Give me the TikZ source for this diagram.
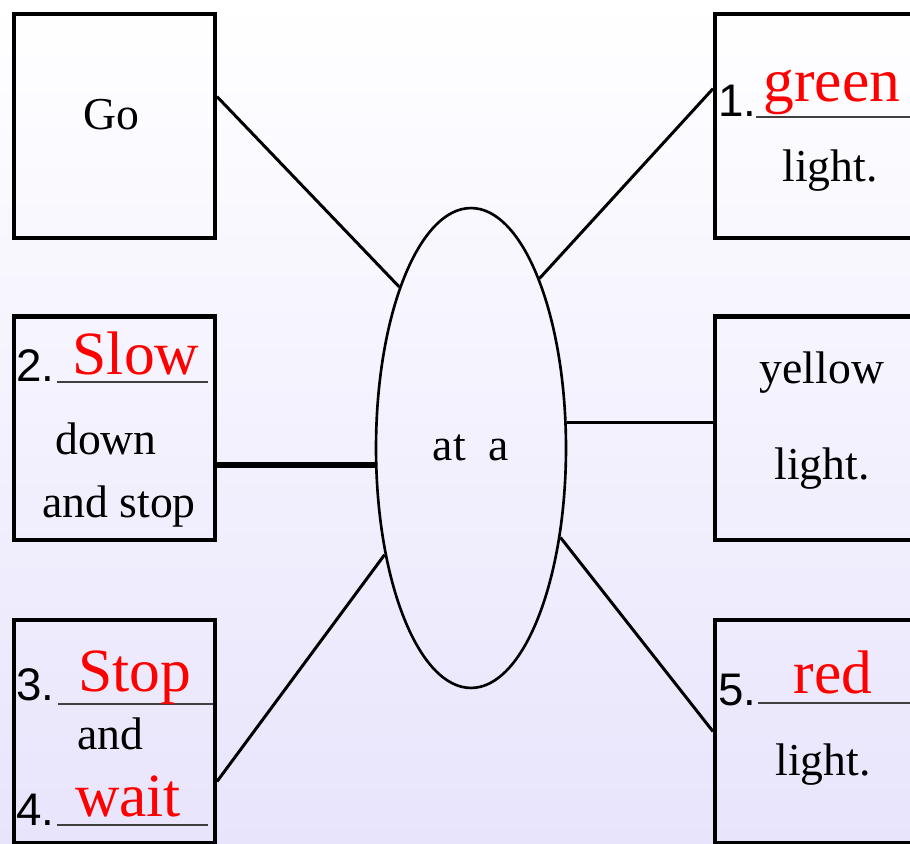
\documentclass[tikz,border=0pt]{standalone}
\usepackage{fontspec}
\setmainfont{Liberation Serif}
\newfontfamily\numfont{Liberation Sans}
\usetikzlibrary{shapes.geometric}
\definecolor{lav}{RGB}{232,228,252}

\begin{document}
\begin{tikzpicture}[x=0.02cm,y=-0.02cm,
    box/.style={draw,line width=2.3pt,minimum width=4.02cm,minimum height=4.48cm,inner sep=0pt},
    link/.style={line width=1.7pt},
    word/.style={font=\fontsize{26}{30}\selectfont,anchor=base,inner sep=0pt},
    ans/.style={text=red,font=\fontsize{35}{40}\selectfont,anchor=base,inner sep=0pt},
    num/.style={font=\numfont\fontsize{26}{30}\selectfont,anchor=base west,inner sep=0pt},
    blank/.style={line width=0.8pt,black!75}]
      \useasboundingbox (0,0) rectangle (910,844) ;
      \clip (0,0) rectangle (910,844) ;
      \shade[top color=white,middle color=lav!40!white,bottom color=lav] (0,0) rectangle (910,844) ;
      % left column
      \node[box] (go) at (114.5,126) {} ;
      \node[box] (slow) at (114.5,428.5) {} ;
      \node[box] (stop) at (114.5,731.5) {} ;
      % right column
      \node[box] (green) at (815.5,126) {} ;
      \node[box] (yellow) at (815.5,428.5) {} ;
      \node[box] (red) at (815.5,731.5) {} ;
      \node[draw,ellipse,line width=1.5pt,minimum width=3.8cm,minimum height=9.6cm,%
      inner sep=0pt,font=\fontsize{26}{30}\selectfont] (hub) at (471,448) {at\hspace{0.5em}a} ;
      % texts
      \node[word] (goT) at (111.5,130) {Go} ;
      \node[num] (n2) at (16,382) {2.} ;
      \draw[blank] (57,382) -- (208,382) ;
      \node[ans] (slowT) at (136,375) {Slow} ;
      \node[word] (downT) at (106,455) {down} ;
      \node[word] (andstopT) at (119,518) {and stop} ;
      \node[num] (n3) at (16,700) {3.} ;
      \draw[blank] (58,704) -- (213,704) ;
      \node[ans] (stopT) at (135,691) {Stop} ;
      \node[word] (andT) at (110,749) {and} ;
      \node[num] (n4) at (16,825) {4.} ;
      \draw[blank] (57,825) -- (208,825) ;
      \node[ans] (waitT) at (128,816) {wait} ;
      \node[num] (n1) at (718,117) {1.} ;
      \draw[blank] (756,117) -- (915,117) ;
      \node[ans] (greenT) at (832,102) {green} ;
      \node[word] (lightA) at (830,182) {light.} ;
      \node[word] (yellowT) at (822,384) {yellow} ;
      \node[word] (lightB) at (822,480) {light.} ;
      \node[num] (n5) at (718,705) {5.} ;
      \draw[blank] (758,703) -- (915,703) ;
      \node[ans] (redT) at (833,693) {red} ;
      \node[word] (lightC) at (823,775) {light.} ;
      % connectors
      \draw[link] (go.16) -- (hub.114) ;
      \draw[line width=3pt] (hub.190) -- (slow.east |- hub.190) ;
      \draw[link] (stop.334) -- (hub.231) ;
      \draw[link] (hub.68) -- (green.160) ;
      \draw[link] (hub.15) -- (yellow.west |- hub.15) ;
      \draw[link] (hub.315) -- (red.180) ;
    \end{tikzpicture}
\end{document}
